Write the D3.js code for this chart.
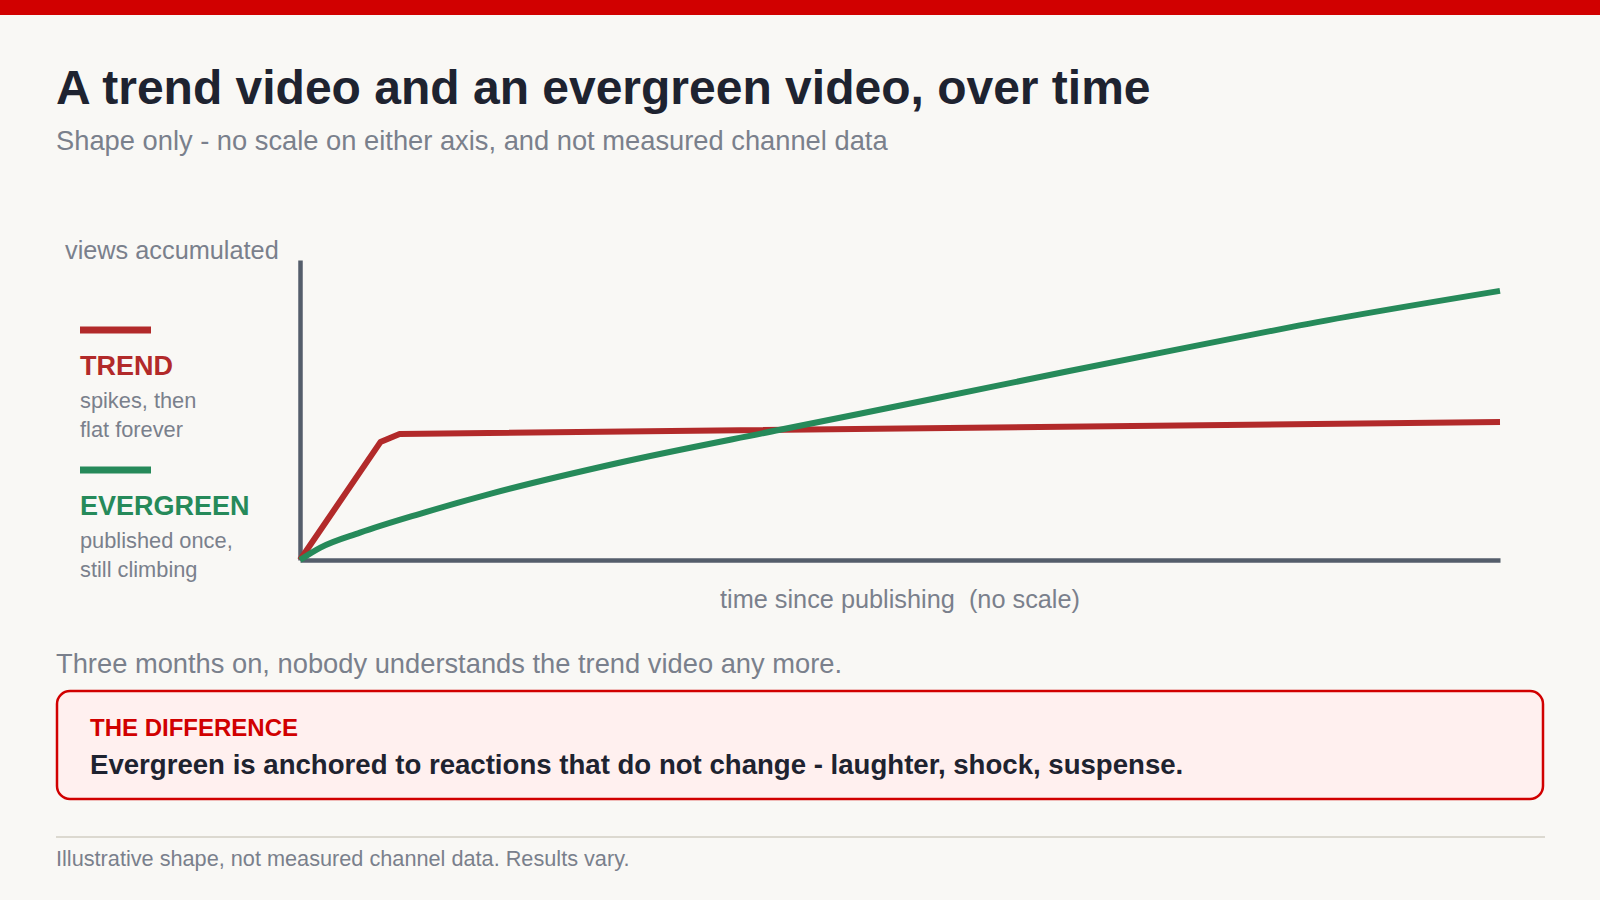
<!DOCTYPE html>
<html>
<head>
<meta charset="utf-8">
<script src="https://cdn.jsdelivr.net/npm/d3@7/dist/d3.min.js"></script>
<style>
  html, body { margin: 0; padding: 0; background: #f9f8f5; }
  svg { display: block; font-family: "Liberation Sans", Arial, sans-serif; }
</style>
</head>
<body>
<svg id="chart" width="1600" height="900"></svg>
<script>
// ---- data (shape only, unitless) ----
const seriesNames = ["TREND", "EVERGREEN"];
const seriesNotes = [["spikes, then", "flat forever"], ["published once,", "still climbing"]];
const trendTime  = [0, 6.7, 8.3, 100];
const trendViews = [0, 39.3, 42, 46];
const evergreenTime  = [0, 1.7, 5, 10, 16, 26.6, 40, 53, 64, 74.4, 83.3, 100];
const evergreenViews = [0, 4.1, 9.1, 15.4, 22.2, 32.4, 43.4, 53.9, 62.9, 71.2, 78.2, 89.7];
const yAxisLabel = "views accumulated";
const xAxisLabel = "time since publishing  (no scale)";

const colors = { trend: "#b22a2a", evergreen: "#268a5a", axis: "#555e6b", muted: "#7a808c", dark: "#1e2330", accent: "#d10000" };

const svg = d3.select("#chart");

// top bar
svg.append("rect").attr("x", 0).attr("y", 0).attr("width", 1600).attr("height", 15).attr("fill", colors.accent);

// title & subtitle
svg.append("text").attr("x", 56).attr("y", 104).attr("font-size", 48).attr("font-weight", "bold")
  .attr("fill", colors.dark).text("A trend video and an evergreen video, over time");
svg.append("text").attr("x", 56).attr("y", 150).attr("font-size", 27.3)
  .attr("fill", colors.muted).text("Shape only - no scale on either axis, and not measured channel data");

// scales
const x = d3.scaleLinear().domain([0, 100]).range([300, 1500]);
const y = d3.scaleLinear().domain([0, 100]).range([560, 260]);

// axes (no ticks)
const xAxis = d3.axisBottom(x).tickValues([]).tickSizeOuter(0);
const yAxis = d3.axisLeft(y).tickValues([]).tickSizeOuter(0);
const gx = svg.append("g").attr("transform", `translate(0,${y(0)})`).call(xAxis);
const gy = svg.append("g").attr("transform", `translate(${x(0)},0)`).call(yAxis);
[gx, gy].forEach(g => g.select(".domain").attr("stroke", colors.axis).attr("stroke-width", 4.5).attr("stroke-linecap", "butt"));

// axis labels
svg.append("text").attr("x", 65).attr("y", 259).attr("font-size", 25.3).attr("fill", colors.muted).text(yAxisLabel);
svg.append("text").attr("x", (x(0) + x(100)) / 2).attr("y", 608).attr("text-anchor", "middle")
  .attr("font-size", 25.3).attr("fill", colors.muted).attr("xml:space", "preserve").style("white-space", "pre").text(xAxisLabel);

// lines
const trendData = trendTime.map((t, i) => [t, trendViews[i]]);
const evergreenData = evergreenTime.map((t, i) => [t, evergreenViews[i]]);
const lineLinear = d3.line().x(d => x(d[0])).y(d => y(d[1]));
const lineCurve = d3.line().x(d => x(d[0])).y(d => y(d[1])).curve(d3.curveMonotoneX);

svg.append("path").datum(trendData).attr("d", lineLinear).attr("fill", "none")
  .attr("stroke", colors.trend).attr("stroke-width", 6).attr("stroke-linejoin", "round");
svg.append("path").datum(evergreenData).attr("d", lineCurve).attr("fill", "none")
  .attr("stroke", colors.evergreen).attr("stroke-width", 6).attr("stroke-linejoin", "round");

// legend
const legendColors = [colors.trend, colors.evergreen];
const legendTop = [330, 470];
seriesNames.forEach((name, i) => {
  const g = svg.append("g");
  const top = legendTop[i];
  g.append("rect").attr("x", 80).attr("y", top - 3.5).attr("width", 71).attr("height", 7).attr("fill", legendColors[i]);
  g.append("text").attr("x", 80).attr("y", top + 44.5).attr("font-size", 27).attr("font-weight", "bold")
    .attr("fill", legendColors[i]).text(name);
  seriesNotes[i].forEach((line, j) => {
    g.append("text").attr("x", 80).attr("y", top + 78 + j * 28.5).attr("font-size", 21.8)
      .attr("fill", colors.muted).text(line);
  });
});

// note
svg.append("text").attr("x", 56).attr("y", 673).attr("font-size", 27.3).attr("fill", colors.muted)
  .text("Three months on, nobody understands the trend video any more.");

// callout box
svg.append("rect").attr("x", 57).attr("y", 691).attr("width", 1486).attr("height", 108).attr("rx", 13)
  .attr("fill", "#fff0ef").attr("stroke", colors.accent).attr("stroke-width", 2.5);
svg.append("text").attr("x", 90).attr("y", 736).attr("font-size", 24).attr("font-weight", "bold")
  .attr("fill", colors.accent).text("THE DIFFERENCE");
svg.append("text").attr("x", 90).attr("y", 774).attr("font-size", 27.6).attr("font-weight", "bold")
  .attr("fill", colors.dark).text("Evergreen is anchored to reactions that do not change - laughter, shock, suspense.");

// divider & footer
svg.append("line").attr("x1", 56).attr("x2", 1545).attr("y1", 837).attr("y2", 837)
  .attr("stroke", "#dcd9d0").attr("stroke-width", 2);
svg.append("text").attr("x", 56).attr("y", 866).attr("font-size", 21.7).attr("fill", colors.muted)
  .text("Illustrative shape, not measured channel data. Results vary.");
</script>
</body>
</html>
